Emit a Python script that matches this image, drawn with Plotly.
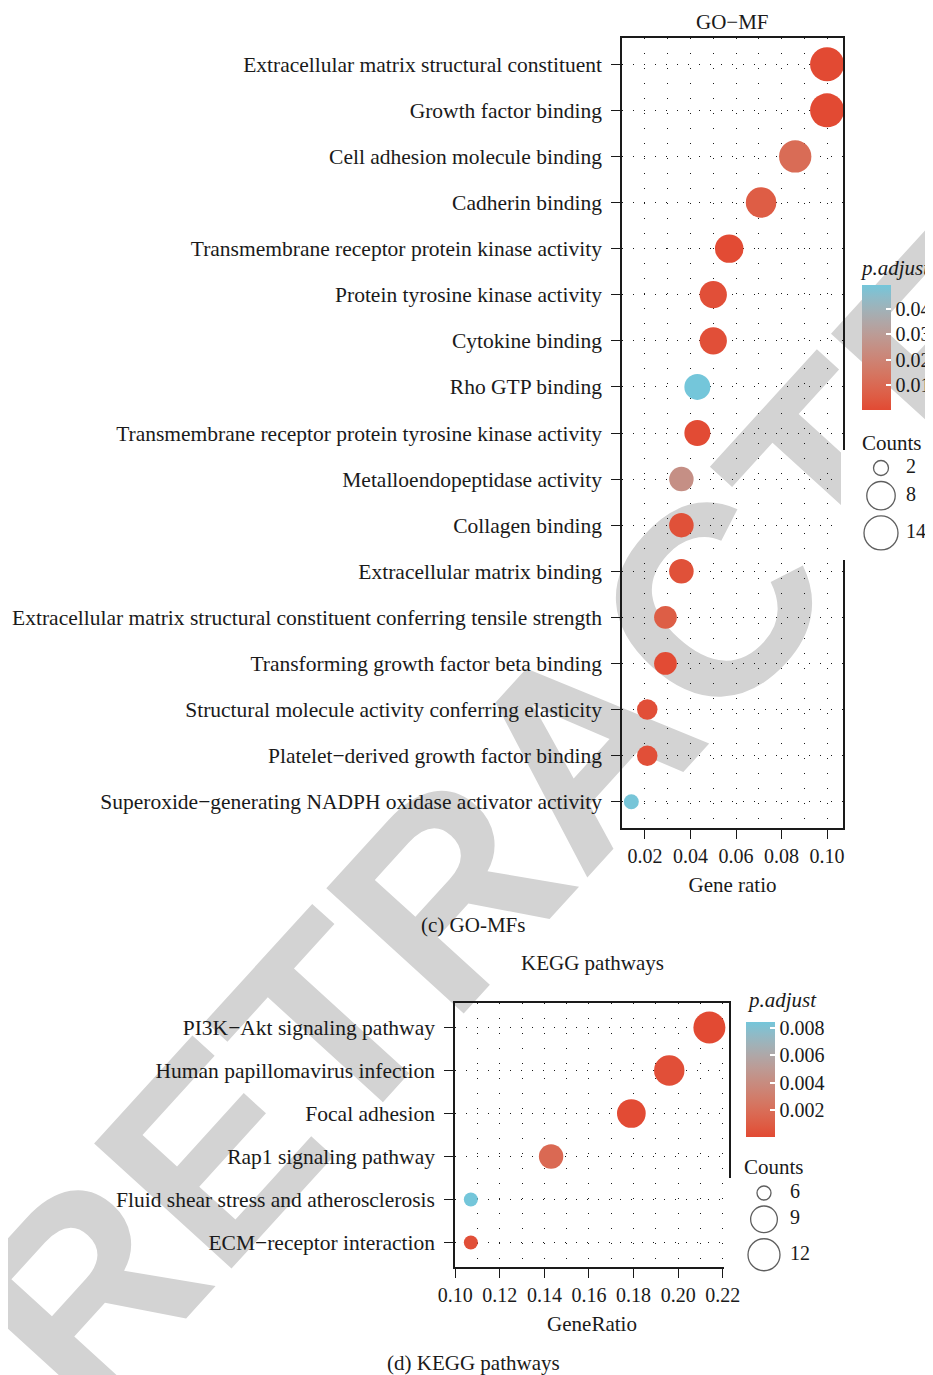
import numpy as np
import plotly.graph_objects as go

W, H = 933, 1375
# the page body keeps its default 8px margin, so the figure is drawn 8px in
OX, OY = 8, 8
FW, FH = W - OX, H - OY
FONT = "Liberation Serif"
INK = "#1a1a1a"
LOW, HIGH = "#E24A33", "#74C6DA"

# ---------------------------------------------------------------------------
# Data (c) GO-MF
# ---------------------------------------------------------------------------
mf_terms = [
    "Extracellular matrix structural constituent",
    "Growth factor binding",
    "Cell adhesion molecule binding",
    "Cadherin binding",
    "Transmembrane receptor protein kinase activity",
    "Protein tyrosine kinase activity",
    "Cytokine binding",
    "Rho GTP binding",
    "Transmembrane receptor protein tyrosine kinase activity",
    "Metalloendopeptidase activity",
    "Collagen binding",
    "Extracellular matrix binding",
    "Extracellular matrix structural constituent conferring tensile strength",
    "Transforming growth factor beta binding",
    "Structural molecule activity conferring elasticity",
    "Platelet\u2212derived growth factor binding",
    "Superoxide\u2212generating NADPH oxidase activator activity",
]
mf_ratio = [0.100, 0.100, 0.086, 0.071, 0.057, 0.050, 0.050, 0.043, 0.043,
            0.036, 0.036, 0.036, 0.029, 0.029, 0.021, 0.021, 0.014]
mf_count = [14, 14, 12, 10, 8, 7, 7, 6, 6, 5, 5, 5, 4, 4, 3, 3, 2]
mf_padj = [0.000001, 0.000002, 0.011, 0.0055, 0.0004, 0.0015, 0.0015, 0.0496, 0.0003,
           0.025, 0.002, 0.002, 0.006, 0.0004, 0.0015, 0.0015, 0.049]
mf_xticks = [0.02, 0.04, 0.06, 0.08, 0.10]
mf_cbar_ticks = [0.01, 0.02, 0.03, 0.04]
mf_size_breaks = [2, 8, 14]

# ---------------------------------------------------------------------------
# Data (d) KEGG
# ---------------------------------------------------------------------------
kegg_terms = [
    "PI3K\u2212Akt signaling pathway",
    "Human papillomavirus infection",
    "Focal adhesion",
    "Rap1 signaling pathway",
    "Fluid shear stress and atherosclerosis",
    "ECM\u2212receptor interaction",
]
kegg_ratio = [0.214, 0.196, 0.179, 0.143, 0.107, 0.107]
kegg_count = [12, 11, 10, 8, 6, 6]
kegg_padj = [0.00005, 0.0003, 0.0001, 0.0017, 0.0084, 0.0003]
kegg_xticks = [0.10, 0.12, 0.14, 0.16, 0.18, 0.20, 0.22]
kegg_cbar_ticks = [0.002, 0.004, 0.006, 0.008]
kegg_size_breaks = [6, 9, 12]


def px(x):
    return (x - OX) / FW


def py(y):
    return 1 - (y - OY) / FH


def _hex_to_lab(h):
    rgb = np.array([int(h[i:i + 2], 16) for i in (1, 3, 5)]) / 255.0
    lin = np.where(rgb > 0.04045, ((rgb + 0.055) / 1.055) ** 2.4, rgb / 12.92)
    m = np.array([[0.4124, 0.3576, 0.1805], [0.2126, 0.7152, 0.0722], [0.0193, 0.1192, 0.9505]])
    xyz = m @ lin / np.array([0.95047, 1.0, 1.08883])
    f = np.where(xyz > 0.008856, np.cbrt(xyz), 7.787 * xyz + 16 / 116)
    return np.array([116 * f[1] - 16, 500 * (f[0] - f[1]), 200 * (f[1] - f[2])])


def _lab_to_hex(lab):
    fy = (lab[0] + 16) / 116
    f = np.array([fy + lab[1] / 500, fy, fy - lab[2] / 200])
    xyz = np.where(f ** 3 > 0.008856, f ** 3, (f - 16 / 116) / 7.787) * np.array([0.95047, 1.0, 1.08883])
    m = np.array([[3.2406, -1.5372, -0.4986], [-0.9689, 1.8758, 0.0415], [0.0557, -0.2040, 1.0570]])
    lin = np.clip(m @ xyz, 0, 1)
    rgb = np.where(lin > 0.0031308, 1.055 * lin ** (1 / 2.4) - 0.055, 12.92 * lin)
    return "#" + "".join(f"{int(round(v * 255)):02x}" for v in rgb)


def lab_colorscale(low, high, n=11):
    """ggplot-like two colour gradient, interpolated in CIELAB."""
    a, b = _hex_to_lab(low), _hex_to_lab(high)
    return [[float(t), _lab_to_hex(a + (b - a) * t)] for t in np.linspace(0, 1, n)]


def dot_size(counts, lo, hi, d_min, d_max):
    """Area scale: diameter grows with sqrt of the rescaled count."""
    c = np.asarray(counts, float)
    return d_min + (d_max - d_min) * np.sqrt((c - lo) / (hi - lo))


def key_centres(sizes, top, gap=6, min_key=20):
    h = np.maximum(np.asarray(sizes) + gap, min_key)
    return top + np.cumsum(h) - h / 2


SCALE = lab_colorscale(LOW, HIGH)
num_font = dict(family=FONT, size=20, color=INK)
cat_font = dict(family=FONT, size=21.5, color=INK)
word_font = dict(family=FONT, size=21, color=INK)


def add_panel(fig, n, terms, ratio, count, padj, xticks, xrange, box, cbar, cticks,
              breaks, dsize, legend, xtitle, cprefix):
    xa, ya = f"xaxis{n}", f"yaxis{n}"
    left, top, right, bottom = box
    lo, hi = min(count), max(count)
    sizes = dot_size(count, lo, hi, *dsize)
    cb_left, cb_top, cb_bottom = cbar
    fig.add_trace(go.Scatter(
        x=ratio, y=terms, mode="markers", xaxis=f"x{n}", yaxis=f"y{n}",
        marker=dict(
            size=sizes, color=padj, colorscale=SCALE, cmin=min(padj), cmax=max(padj),
            line=dict(width=0), opacity=1,
            colorbar=dict(
                x=px(cb_left), xanchor="left", y=py((cb_top + cb_bottom) / 2), yanchor="middle",
                len=cb_bottom - cb_top, lenmode="pixels", thickness=29, thicknessmode="pixels",
                xpad=0, ypad=0, outlinewidth=0, tickmode="array", tickvals=cticks,
                ticks="inside", ticklen=5, tickwidth=1.5, tickcolor="white",
                tickprefix=cprefix, tickfont=num_font,
            ),
        ),
        hoverinfo="skip",
    ))
    # ggplot draws the colourbar ticks on both edges; plotly only on one
    for v in cticks:
        yv = cb_bottom - (v - min(padj)) / (max(padj) - min(padj)) * (cb_bottom - cb_top)
        fig.add_shape(type="line", xref="paper", yref="paper",
                      x0=px(cb_left), x1=px(cb_left + 5), y0=py(yv), y1=py(yv),
                      line=dict(color="white", width=1.5))

    n_cat = len(terms)
    axis_common = dict(
        showline=True, linecolor=INK, linewidth=1.5, mirror=True,
        ticks="outside", ticklen=9, tickwidth=1.3, tickcolor=INK,
        zeroline=False, showgrid=True, gridcolor=INK, gridwidth=1,
    )
    fig.update_layout(**{
        xa: dict(
            domain=[px(left), px(right)], range=xrange, anchor=f"y{n}",
            tickmode="array", tickvals=xticks, tickformat=".2f", griddash="1px,14px",
            tickfont=num_font,
            minor=dict(dtick=0.01, tick0=0, showgrid=True, gridcolor=INK, gridwidth=1,
                       griddash="1px,14px", ticks=""),
            title=dict(text=xtitle, font=word_font, standoff=12),
            **axis_common,
        ),
        ya: dict(
            domain=[py(bottom), py(top)], anchor=f"x{n}", type="category",
            categoryorder="array", categoryarray=terms, tickfont=cat_font,
            ticklabelstandoff=5,
            range=[n_cat - 1 + 0.57, -0.57], griddash="1px,10px",
            **axis_common,
        ),
    })

    # size legend drawn in its own pixel-unit axes
    lx, ly, lab_x, ltop, lh = legend
    m = n + 2
    lsizes = dot_size(breaks, lo, hi, *dsize)
    ys = key_centres(lsizes, ly)
    fig.add_trace(go.Scatter(
        x=[lx] * len(breaks), y=ys, mode="markers", xaxis=f"x{m}", yaxis=f"y{m}",
        marker=dict(size=lsizes, symbol="circle-open", color=INK, line=dict(width=1.3)),
        hoverinfo="skip",
    ))
    fig.add_trace(go.Scatter(
        x=[lab_x] * len(breaks), y=ys, mode="text", text=[str(b) for b in breaks],
        textposition="middle right", textfont=num_font,
        xaxis=f"x{m}", yaxis=f"y{m}", hoverinfo="skip",
    ))
    hidden = dict(visible=False, showgrid=False, zeroline=False, fixedrange=True)
    fig.update_layout(**{
        f"xaxis{m}": dict(domain=[px(lx - 40), 1], range=[lx - 40, OX + FW], anchor=f"y{m}", **hidden),
        f"yaxis{m}": dict(domain=[py(ltop + lh), py(ltop)], range=[ltop + lh, ltop], anchor=f"x{m}", **hidden),
    })


fig = go.Figure()

add_panel(fig, 1, mf_terms, mf_ratio, mf_count, mf_padj, mf_xticks, [0.0099, 0.107],
          box=(622, 38, 843, 828), cbar=(862, 285, 410), cticks=mf_cbar_ticks,
          breaks=mf_size_breaks, dsize=(15, 34), legend=(881, 457.5, 906, 450, 110),
          xtitle="Gene ratio", cprefix="\u00a0\u2009")
add_panel(fig, 2, kegg_terms, kegg_ratio, kegg_count, kegg_padj, kegg_xticks, [0.0999, 0.2228],
          box=(455, 1003, 729, 1267), cbar=(746, 1022, 1137), cticks=kegg_cbar_ticks,
          breaks=kegg_size_breaks, dsize=(14, 32), legend=(764, 1183, 790, 1178, 100),
          xtitle="GeneRatio", cprefix="\u00a0")


def text(x, y, s, anchor="center", font=word_font):
    fig.add_annotation(x=px(x), y=py(y), xref="paper", yref="paper", text=s, showarrow=False,
                       xanchor=anchor, yanchor="middle", font=font)


text(732, 22, "GO\u2212MF")
text(858, 268, "<i>p.adjust</i>", "left")
text(860, 443, "Counts", "left")
text(473, 925, "(c) GO-MFs")
text(592, 963, "KEGG pathways")
text(745, 1000, "<i>p.adjust</i>", "left")
text(742, 1167, "Counts", "left")
text(473, 1363, "(d) KEGG pathways")

# retraction watermark, kept beneath the charts
fig.add_shape(
    type="rect", xref="paper", yref="paper", layer="below",
    x0=px(460), x1=px(660), y0=py(830), y1=py(630),
    line=dict(width=0), fillcolor="rgba(0,0,0,0)",
    label=dict(text="<b>RETRACTED</b>", textangle=-47.7, textposition="middle center",
               font=dict(family="Liberation Sans", size=270, color="#D3D3D3")),
)

fig.update_layout(
    width=FW, height=FH, margin=dict(l=0, r=0, t=0, b=0, autoexpand=False),
    paper_bgcolor="white", plot_bgcolor="white", showlegend=False,
    font=dict(family=FONT, color=INK),
)

fig.write_html("out.html")
